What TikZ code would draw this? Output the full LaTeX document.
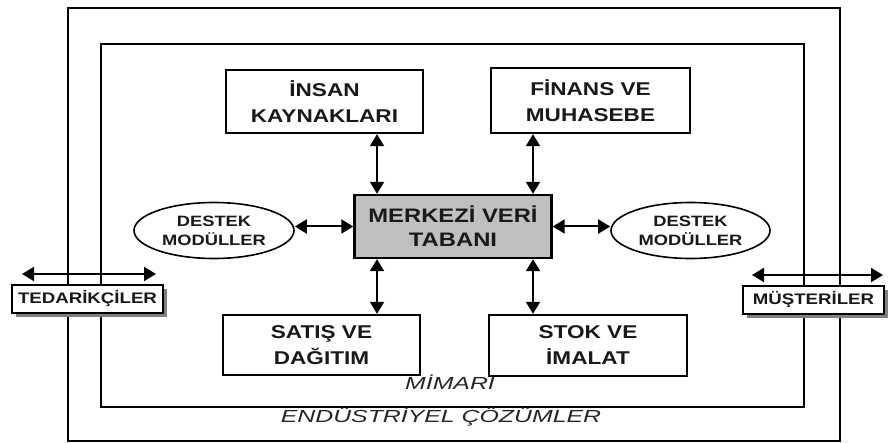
\documentclass[tikz,border=0pt]{standalone}
\usepackage{fontspec}
\setmainfont{Liberation Sans}
\newfontfamily\boxfont[FakeStretch=1.22]{Liberation Sans}
\newfontfamily\labfont[FakeStretch=1.42]{Liberation Sans}
\usetikzlibrary{arrows.meta,shapes.geometric,shadows}

\tikzset{
  frame/.style={draw, line width=2.2pt},
  module/.style={draw, line width=2.4pt, fill=white, inner sep=0pt, align=center,
    font=\boxfont\bfseries\fontsize{18.5}{26}\selectfont, text=black!90},
  support/.style={draw, ellipse, line width=1.6pt, fill=white, inner sep=0pt, align=center,
    font=\boxfont\bfseries\fontsize{15}{19}\selectfont, text=black!90},
  party/.style={draw, line width=2pt, fill=white, inner sep=0pt, text=black!90,
    font=\boxfont\bfseries\fontsize{15.3}{16}\selectfont,
    drop shadow={shadow xshift=4pt, shadow yshift=-4pt, fill=black!50, opacity=1}},
  link/.style={{Triangle[length=12pt,width=14pt]}-{Triangle[length=12pt,width=14pt]}, line width=2pt},
  layer/.style={font=\labfont\itshape\fontsize{17.5}{20}\selectfont, text=black!85, anchor=base, inner sep=0pt}
}

\begin{document}
\begin{tikzpicture}[x=1pt,y=-1pt]
  \useasboundingbox (0,0) rectangle (888,443);

  % nested layers
  \draw[frame] (68,8) rectangle (840,441);
  \draw[frame] (101,44) rectangle (804,407);
  \node[layer] (mimari) at (450,389) {MİMARİ};
  \node[layer] (endustri) at (441,422) {ENDÜSTRİYEL ÇÖZÜMLER};

  % modules
  \node[module, minimum width=197pt, minimum height=63pt] (ik) at (324.5,101.5) {İNSAN\\KAYNAKLARI};
  \node[module, minimum width=199pt, minimum height=65pt] (fin) at (590.5,100.5) {FİNANS VE\\MUHASEBE};
  \node[module, minimum width=197pt, minimum height=63pt, fill=black!25,
        font=\boxfont\bfseries\fontsize{19.5}{24}\selectfont] (db) at (453,226.5) {MERKEZİ VERİ\\TABANI};
  \node[module, minimum width=197pt, minimum height=60pt] (sat) at (321.5,345) {SATIŞ VE\\DAĞITIM};
  \node[module, minimum width=198pt, minimum height=61pt] (stk) at (588,345.5) {STOK VE\\İMALAT};

  \node[support, minimum width=160pt, minimum height=56pt] (dl) at (214,230.5) {DESTEK\\MODÜLLER};
  \node[support, minimum width=159pt, minimum height=56pt] (dr) at (690.5,230.5) {DESTEK\\MODÜLLER};

  % links to the central database
  \coordinate (cl) at (377,0);
  \coordinate (cr) at (533,0);
  \draw[link] (ik.south -| cl) -- (db.north -| cl);
  \draw[link] (fin.south -| cr) -- (db.north -| cr);
  \draw[link] (sat.north -| cl) -- (db.south -| cl);
  \draw[link] (stk.north -| cr) -- (db.south -| cr);
  \draw[link] (dl.east |- db.west) -- (db.west);
  \draw[link] (dr.west |- db.east) -- (db.east);

  % suppliers and customers
  \node[party, minimum width=151pt, minimum height=28pt] (ted) at (87.5,299) {TEDARİKÇİLER};
  \node[party, minimum width=141pt, minimum height=28pt] (mus) at (813.5,300) {MÜŞTERİLER};
  \coordinate (tedl) at (22,274);
  \coordinate (tedr) at (156,274);
  \coordinate (musl) at (752,275);
  \coordinate (musr) at (883,275);
  \draw[link] (tedl) -- (tedr);
  \draw[link] (musl) -- (musr);
\end{tikzpicture}
\end{document}
